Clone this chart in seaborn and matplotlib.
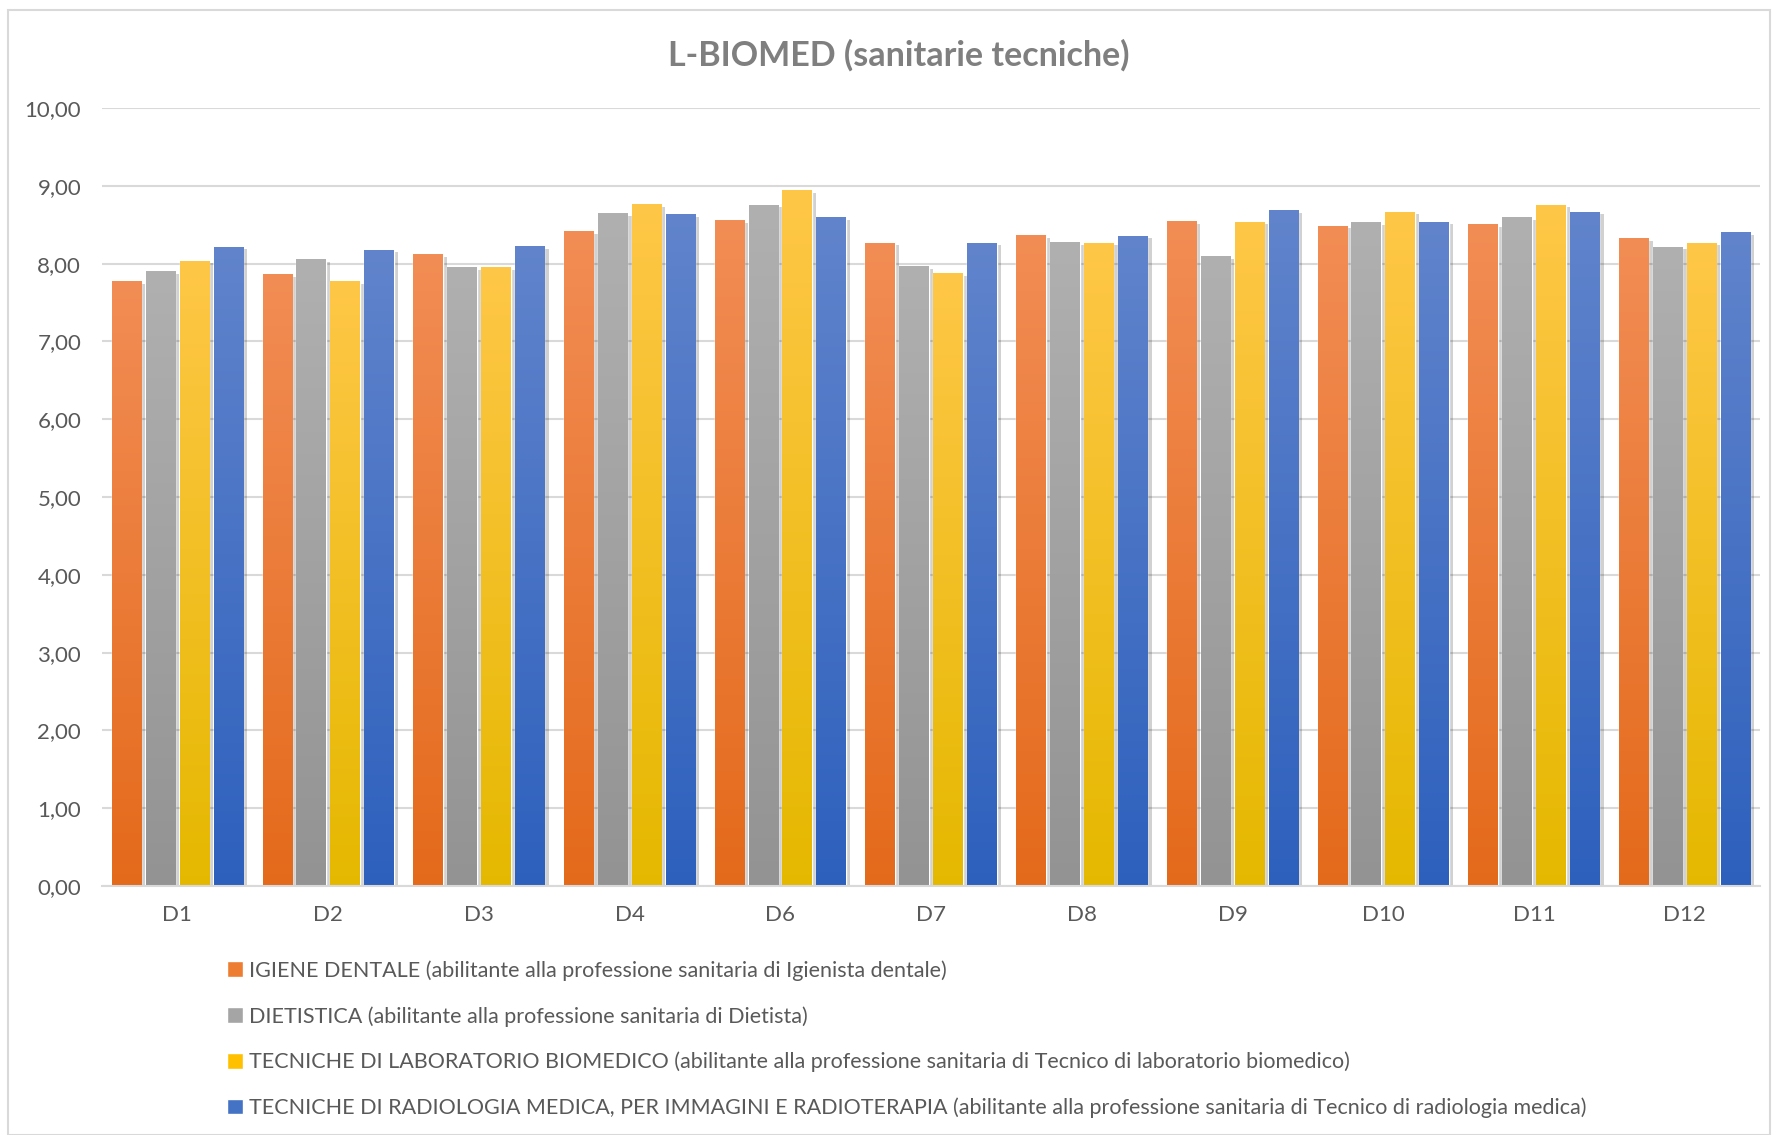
import numpy as np
import pandas as pd
import matplotlib
matplotlib.use('Agg')
import matplotlib.pyplot as plt
import matplotlib.patheffects as pe
from matplotlib.colors import LinearSegmentedColormap
from matplotlib.patches import Rectangle
from matplotlib.ticker import FuncFormatter
import seaborn as sns

# DATA
categories = ['D1', 'D2', 'D3', 'D4', 'D6', 'D7', 'D8', 'D9', 'D10', 'D11', 'D12']
series_names = [
    'IGIENE DENTALE (abilitante alla professione sanitaria di Igienista dentale)',
    'DIETISTICA (abilitante alla professione sanitaria di Dietista)',
    'TECNICHE DI LABORATORIO BIOMEDICO (abilitante alla professione sanitaria di Tecnico di laboratorio biomedico)',
    'TECNICHE DI RADIOLOGIA MEDICA, PER IMMAGINI E RADIOTERAPIA (abilitante alla professione sanitaria di Tecnico di radiologia medica)',
]
igiene = [7.78, 7.87, 8.12, 8.42, 8.56, 8.27, 8.37, 8.55, 8.49, 8.51, 8.33]
dietistica = [7.90, 8.06, 7.96, 8.65, 8.76, 7.97, 8.28, 8.10, 8.53, 8.60, 8.22]
laboratorio = [8.04, 7.78, 7.96, 8.77, 8.95, 7.88, 8.27, 8.54, 8.67, 8.76, 8.27]
radiologia = [8.22, 8.18, 8.23, 8.64, 8.60, 8.27, 8.36, 8.69, 8.54, 8.67, 8.41]
y_ticks = [0, 1, 2, 3, 4, 5, 6, 7, 8, 9, 10]

# colours: (bottom, top) of the gradient
mid_colors = ['#ED7D31', '#A5A5A5', '#FFC000', '#4472C4']
grad_colors = [('#E46A1B', '#F28D55'), ('#939393', '#B0B0B0'),
               ('#E5B800', '#FFC747'), ('#2D60BD', '#6184CC')]

df = pd.DataFrame({'categoria': categories * 4,
                   'serie': np.repeat(series_names, len(categories)),
                   'valore': igiene + dietistica + laboratorio + radiologia})

sns.set_style('white')
plt.rcParams['font.family'] = ['Lato', 'DejaVu Sans']

fig = plt.figure(figsize=(17.72, 11.35), dpi=100)
ax = fig.add_axes([0.0576, 0.2194, 0.9356, 0.6854])

sns.barplot(data=df, x='categoria', y='valore', hue='serie', order=categories,
            hue_order=series_names, palette=mid_colors, width=0.9, gap=0.13,
            saturation=1, legend=True, ax=ax, zorder=2)

# gradient fill + soft shadow
n_cat = len(categories)
for i, patch in enumerate(ax.patches[:n_cat * 4]):
    s = i // n_cat
    cmap = LinearSegmentedColormap.from_list('g%d' % i, grad_colors[s])
    x0 = patch.get_x()
    w = patch.get_width()
    h = patch.get_height()
    patch.set_path_effects([pe.SimplePatchShadow(offset=(3, -2), shadow_rgbFace='#000000', alpha=0.18),
                            pe.Normal()])
    im = ax.imshow(np.linspace(0, 1, 256).reshape(-1, 1), extent=[x0, x0 + w, 0, h],
                   origin='lower', cmap=cmap, aspect='auto', zorder=2.5)
    im.set_clip_path(patch)

ax.set_xlim(-0.5, n_cat - 0.5)
ax.set_ylim(0, 10)
ax.set_yticks(y_ticks)
ax.yaxis.set_major_formatter(FuncFormatter(lambda v, p: ('%.2f' % v).replace('.', ',')))
ax.grid(axis='y', color='#D9D9D9', linewidth=1.5, zorder=0)
ax.set_axisbelow(True)
for side in ['top', 'right', 'left']:
    ax.spines[side].set_visible(False)
ax.spines['bottom'].set_color('#D9D9D9')
ax.spines['bottom'].set_linewidth(1.5)
ax.tick_params(axis='both', length=0, labelsize=16, labelcolor='#595959')
ax.tick_params(axis='y', pad=15)
ax.tick_params(axis='x', pad=14)
ax.set_xlabel('')
ax.set_ylabel('')

# legend
handles, labels = ax.get_legend_handles_labels()
ax.get_legend().remove()
fig.legend(handles, labels, loc='upper left', bbox_to_anchor=(0.128, 0.154), frameon=False,
           fontsize=15.45, labelcolor='#595959', handlelength=0.75, handleheight=0.75,
           handletextpad=0.3, labelspacing=1.17, borderaxespad=0, borderpad=0)

fig.text(0.507, 0.951, 'L-BIOMED (sanitarie tecniche)', ha='center', va='center',
         fontsize=24.5, fontweight='bold', color='#7F7F7F')

# chart border
fig.patches.append(Rectangle((8 / 1772, 0), 1 - 8 / 1772 - 0.001, 1 - 10 / 1135,
                             transform=fig.transFigure, fill=False,
                             edgecolor='#D9D9D9', linewidth=1.5))

fig.savefig('out.png', dpi=100)
